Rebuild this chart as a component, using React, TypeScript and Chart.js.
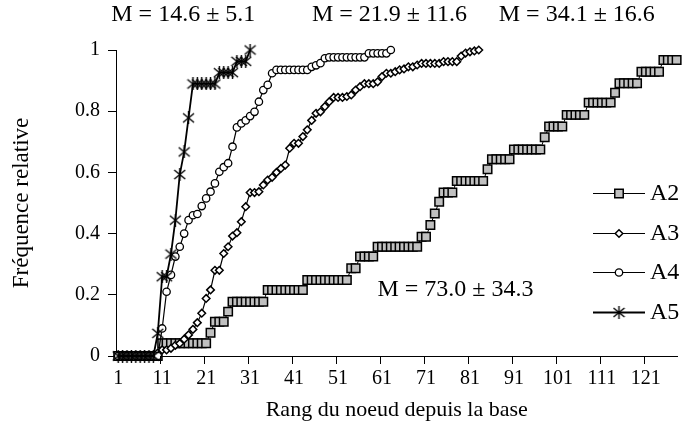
import React, { useEffect, useRef } from "react";
import { Chart, registerables } from "chart.js";

Chart.register(...registerables);

const FONT_FAMILY = "'Liberation Serif', 'Times New Roman', Times, serif";

const SERIES_NAMES = ["A2", "A3", "A4", "A5"];
const X_TICK_LABELS = [1, 11, 21, 31, 41, 51, 61, 71, 81, 91, 101, 111, 121];
const Y_TICK_VALUES = [0, 0.2, 0.4, 0.6, 0.8, 1];
const MEAN_LABELS = ["M = 14.6 ± 5.1", "M = 21.9 ± 11.6", "M = 34.1 ± 16.6", "M = 73.0 ± 34.3"];

// Relative cumulative frequency by node rank (rank 1 = first value)
const A2 = [
  0, 0, 0, 0, 0, 0, 0, 0, 0, 0,
  0.042, 0.042, 0.042, 0.042, 0.042, 0.042, 0.042, 0.042, 0.042, 0.042,
  0.042, 0.076, 0.112, 0.112, 0.112, 0.145, 0.177, 0.177, 0.177, 0.177,
  0.177, 0.177, 0.177, 0.177, 0.216, 0.216, 0.216, 0.216, 0.216, 0.216,
  0.216, 0.216, 0.216, 0.248, 0.248, 0.248, 0.248, 0.248, 0.248, 0.248,
  0.248, 0.248, 0.248, 0.287, 0.287, 0.325, 0.325, 0.325, 0.325, 0.357,
  0.357, 0.357, 0.357, 0.357, 0.357, 0.357, 0.357, 0.357, 0.357, 0.39,
  0.39, 0.428, 0.466, 0.504, 0.534, 0.534, 0.534, 0.572, 0.572, 0.572,
  0.572, 0.572, 0.572, 0.572, 0.61, 0.643, 0.643, 0.643, 0.643, 0.643,
  0.675, 0.675, 0.675, 0.675, 0.675, 0.675, 0.675, 0.715, 0.75, 0.75,
  0.75, 0.75, 0.788, 0.788, 0.788, 0.788, 0.788, 0.828, 0.828, 0.828,
  0.828, 0.828, 0.828, 0.86, 0.891, 0.891, 0.891, 0.891, 0.891, 0.929,
  0.929, 0.929, 0.929, 0.929, 0.967, 0.967, 0.967, 0.967,
];

const A3 = [
  0, 0, 0, 0, 0, 0, 0, 0, 0, 0.01,
  0.02, 0.02, 0.025, 0.035, 0.041, 0.055, 0.069, 0.087, 0.109, 0.14,
  0.188, 0.216, 0.28, 0.28, 0.335, 0.357, 0.392, 0.403, 0.439, 0.488,
  0.534, 0.534, 0.537, 0.559, 0.575, 0.584, 0.6, 0.613, 0.624, 0.679,
  0.695, 0.695, 0.717, 0.739, 0.77, 0.793, 0.798, 0.815, 0.831, 0.845,
  0.845, 0.845, 0.848, 0.853, 0.869, 0.88, 0.89, 0.89, 0.89, 0.896,
  0.913, 0.924, 0.924, 0.929, 0.935, 0.938, 0.945, 0.945, 0.951, 0.956,
  0.956, 0.956, 0.956, 0.956, 0.962, 0.962, 0.962, 0.962, 0.98, 0.99,
  0.994, 0.997, 1,
];

const A4 = [
  0, 0, 0, 0, 0, 0, 0, 0, 0, 0,
  0.09, 0.21, 0.265, 0.325, 0.357, 0.4, 0.444, 0.46, 0.464, 0.49,
  0.515, 0.537, 0.564, 0.602, 0.617, 0.63, 0.684, 0.747, 0.76, 0.77,
  0.784, 0.798, 0.831, 0.869, 0.886, 0.924, 0.935, 0.935, 0.935, 0.935,
  0.935, 0.935, 0.935, 0.935, 0.945, 0.95, 0.957, 0.973, 0.976, 0.976,
  0.976, 0.976, 0.976, 0.976, 0.976, 0.976, 0.976, 0.989, 0.989, 0.989,
  0.989, 0.989, 1,
];

const A5 = [
  0, 0, 0, 0, 0, 0, 0, 0, 0, 0.074,
  0.259, 0.259, 0.333, 0.444, 0.593, 0.667, 0.778, 0.889, 0.889, 0.889,
  0.889, 0.889, 0.889, 0.926, 0.926, 0.926, 0.926, 0.963, 0.963, 0.963,
  1,
];

const SERIES_VALUES = [A2, A3, A4, A5];

function toPoints(values: number[]) {
  return values.map((v, i) => ({ x: i + 1, y: v }));
}

function makeAsterisk(size: number, lw: number): HTMLCanvasElement {
  const c = document.createElement("canvas");
  c.width = size;
  c.height = size;
  const g = c.getContext("2d")!;
  g.strokeStyle = "#000";
  g.lineWidth = lw;
  g.lineCap = "butt";
  const a = 1;
  const b = size - 1;
  const m = size / 2;
  g.beginPath();
  g.moveTo(a, a + 1);
  g.lineTo(b, b - 1);
  g.moveTo(b, a + 1);
  g.lineTo(a, b - 1);
  g.moveTo(m, 0);
  g.lineTo(m, size);
  g.stroke();
  return c;
}

function drawMarker(ctx: CanvasRenderingContext2D, ds: any, x: number, y: number) {
  const style = ds.pointStyle;
  if (style instanceof HTMLCanvasElement) {
    ctx.drawImage(style, x - style.width / 2, y - style.height / 2);
    return;
  }
  const r = ds.pointRadius;
  ctx.beginPath();
  if (style === "rect") {
    const s = r * Math.SQRT1_2;
    ctx.rect(x - s, y - s, 2 * s, 2 * s);
  } else if (style === "rectRot") {
    ctx.moveTo(x - r, y);
    ctx.lineTo(x, y - r);
    ctx.lineTo(x + r, y);
    ctx.lineTo(x, y + r);
    ctx.closePath();
  } else {
    ctx.arc(x, y, r, 0, Math.PI * 2);
  }
  ctx.fillStyle = ds.pointBackgroundColor;
  ctx.fill();
  ctx.lineWidth = ds.pointBorderWidth;
  ctx.strokeStyle = ds.pointBorderColor;
  ctx.stroke();
}

const overlayPlugin = {
  id: "overlay",
  afterDraw(chart: any) {
    const ctx: CanvasRenderingContext2D = chart.ctx;
    const xs = chart.scales.x;
    const ys = chart.scales.y;
    ctx.save();

    // x tick marks on category boundaries
    ctx.strokeStyle = "#000";
    ctx.lineWidth = 1;
    X_TICK_LABELS.slice(1).forEach((t) => {
      const px = Math.round(xs.getPixelForValue(t - 0.5)) + 0.5;
      ctx.beginPath();
      ctx.moveTo(px, xs.top);
      ctx.lineTo(px, xs.top + 8);
      ctx.stroke();
    });

    // mean annotations (anchored in data coordinates)
    const anchors = [
      [15.8, 1.114],
      [62.7, 1.114],
      [105.3, 1.114],
      [77.7, 0.216],
    ];
    ctx.fillStyle = "#000";
    ctx.font = `24px ${FONT_FAMILY}`;
    ctx.textAlign = "center";
    ctx.textBaseline = "middle";
    MEAN_LABELS.forEach((txt, i) => {
      ctx.fillText(txt, xs.getPixelForValue(anchors[i][0]), ys.getPixelForValue(anchors[i][1]));
    });

    // legend
    const legendYs = [193, 233, 272, 312];
    const lineX0 = 593;
    const lineX1 = 645;
    chart.data.datasets.forEach((ds: any, i: number) => {
      const y = legendYs[i];
      ctx.strokeStyle = "#000";
      ctx.lineWidth = ds.borderWidth;
      ctx.beginPath();
      ctx.moveTo(lineX0, y + 0.5);
      ctx.lineTo(lineX1, y + 0.5);
      ctx.stroke();
      drawMarker(ctx, ds, (lineX0 + lineX1) / 2, y + 0.5);
      ctx.fillStyle = "#000";
      ctx.font = `24px ${FONT_FAMILY}`;
      ctx.textAlign = "left";
      ctx.textBaseline = "middle";
      ctx.fillText(ds.label, 650, y + 1);
    });

    ctx.restore();
  },
};

export default function App() {
  const ref = useRef<HTMLCanvasElement>(null);

  useEffect(() => {
    const star = makeAsterisk(13, 1.4);
    const markerStyles: any[] = [
      { pointStyle: "rect", pointRadius: 6, pointBackgroundColor: "#c0c0c0", pointBorderWidth: 1.5, borderWidth: 1 },
      { pointStyle: "rectRot", pointRadius: 3.8, pointBackgroundColor: "#ffffff", pointBorderWidth: 1.5, borderWidth: 1.2 },
      { pointStyle: "circle", pointRadius: 3.7, pointBackgroundColor: "#ffffff", pointBorderWidth: 1.3, borderWidth: 1.2 },
      { pointStyle: star, pointRadius: 6, pointBackgroundColor: "#000000", pointBorderWidth: 1, borderWidth: 1.8 },
    ];

    const datasets = SERIES_NAMES.map((name, i) => ({
      label: name,
      data: toPoints(SERIES_VALUES[i]),
      borderColor: "#000000",
      pointBorderColor: "#000000",
      pointHoverRadius: markerStyles[i].pointRadius,
      clip: false as any,
      order: SERIES_NAMES.length - i,
      ...markerStyles[i],
    }));

    const chart = new Chart(ref.current!, {
      type: "line",
      data: { datasets },
      options: {
        responsive: false,
        animation: false,
        events: [],
        layout: { padding: { top: 50, right: 0, bottom: 0, left: 0 } },
        plugins: {
          legend: { display: false },
          tooltip: { enabled: false },
        },
        scales: {
          x: {
            type: "linear",
            min: 0.5,
            max: 128.2,
            afterBuildTicks: (s: any) => {
              s.ticks = X_TICK_LABELS.map((v) => ({ value: v }));
            },
            afterFit: (s: any) => {
              s.height = 92;
            },
            ticks: {
              autoSkip: false,
              maxRotation: 0,
              padding: 3,
              color: "#000",
              font: { family: FONT_FAMILY, size: 20 },
              callback: (v: any) => String(v),
            },
            grid: { display: false },
            border: { color: "#000", width: 1 },
            title: {
              display: true,
              text: "Rang du noeud depuis la base",
              color: "#000",
              font: { family: FONT_FAMILY, size: 22 },
              padding: { top: 0, bottom: 25 },
            },
          },
          y: {
            type: "linear",
            min: 0,
            max: 1,
            afterBuildTicks: (s: any) => {
              s.ticks = Y_TICK_VALUES.map((v) => ({ value: v }));
            },
            afterFit: (s: any) => {
              s.width = 116;
            },
            ticks: {
              padding: 8,
              color: "#000",
              font: { family: FONT_FAMILY, size: 20 },
              callback: (v: any) => String(Number(Number(v).toFixed(1))),
            },
            grid: { drawOnChartArea: false, drawTicks: true, tickLength: 8, color: "#000" },
            border: { color: "#000", width: 1 },
            title: {
              display: true,
              text: "Fréquence relative",
              color: "#000",
              font: { family: FONT_FAMILY, size: 23 },
              padding: { top: 8, bottom: 0 },
            },
          },
        },
      },
      plugins: [overlayPlugin],
    });

    return () => chart.destroy();
  }, []);

  return (
    <div style={{ position: "absolute", left: 0, top: 0, width: 685, height: 448, background: "#fff" }}>
      <canvas ref={ref} width={685} height={448} style={{ display: "block" }} />
    </div>
  );
}
